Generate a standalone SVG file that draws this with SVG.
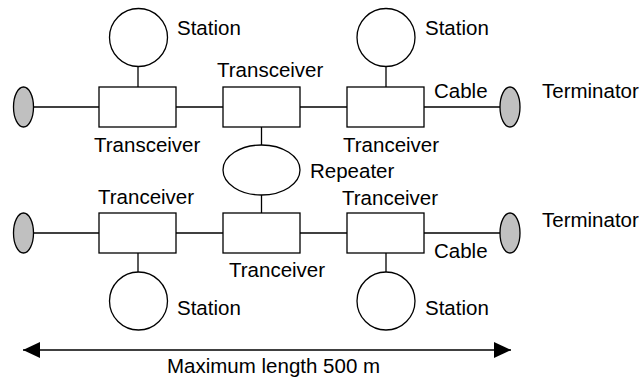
<svg xmlns="http://www.w3.org/2000/svg" width="643" height="379" viewBox="0 0 643 379">
<style>
.ln{stroke:#000;stroke-width:1.3;fill:none}
.bx{stroke:#000;stroke-width:1.3;fill:#fff}
.tm{stroke:#000;stroke-width:1.3;fill:#c0c0c0}
text{font-family:"Liberation Sans",Arial,sans-serif;font-size:20.5px;fill:#000}
</style>
<defs>
<marker id="ah" viewBox="0 0 17 16" refX="17" refY="8" markerWidth="17" markerHeight="16" markerUnits="userSpaceOnUse" orient="auto-start-reverse">
<path d="M0,0 L17,8 L0,16 Z" fill="#000"/>
</marker>
</defs>
<g id="connectors">
<line class="ln" x1="33" y1="107" x2="500" y2="107"/>
<line class="ln" x1="33" y1="233" x2="500" y2="233"/>
<line class="ln" x1="138" y1="67" x2="138" y2="87"/>
<line class="ln" x1="386" y1="67" x2="386" y2="87"/>
<line class="ln" x1="261.5" y1="127" x2="261.5" y2="145"/>
<line class="ln" x1="261.5" y1="195" x2="261.5" y2="213"/>
<line class="ln" x1="138" y1="253" x2="138" y2="272"/>
<line class="ln" x1="386" y1="253" x2="386" y2="272"/>
<line class="ln" x1="23" y1="350" x2="511" y2="350" marker-start="url(#ah)" marker-end="url(#ah)"/>
</g>
<g id="term-tl"><ellipse class="tm" cx="23.5" cy="107" rx="10" ry="20"/></g>
<g id="term-tr"><ellipse class="tm" cx="510" cy="107" rx="10" ry="20"/><text x="542" y="98">Terminator</text></g>
<g id="term-bl"><ellipse class="tm" cx="23.5" cy="233" rx="10" ry="20"/></g>
<g id="term-br"><ellipse class="tm" cx="510" cy="233" rx="10" ry="20"/><text x="542" y="227">Terminator</text></g>
<g id="tx-t1"><rect class="bx" x="99" y="87" width="77" height="40"/><text x="94" y="152">Transceiver</text></g>
<g id="tx-t2"><rect class="bx" x="223" y="87" width="77" height="40"/><text x="217" y="77">Transceiver</text></g>
<g id="tx-t3"><rect class="bx" x="347" y="87" width="77" height="40"/><text x="343" y="152">Tranceiver</text></g>
<g id="tx-b1"><rect class="bx" x="99" y="213" width="77" height="40"/><text x="98" y="204">Tranceiver</text></g>
<g id="tx-b2"><rect class="bx" x="223" y="213" width="77" height="40"/><text x="229" y="277">Tranceiver</text></g>
<g id="tx-b3"><rect class="bx" x="347" y="213" width="77" height="40"/><text x="342" y="205">Tranceiver</text></g>
<g id="st-t1"><circle class="bx" cx="138.5" cy="37.5" r="29"/><text x="177" y="35">Station</text></g>
<g id="st-t3"><circle class="bx" cx="386" cy="37.5" r="29"/><text x="425" y="35">Station</text></g>
<g id="st-b1"><circle class="bx" cx="138.5" cy="301" r="29"/><text x="177" y="315">Station</text></g>
<g id="st-b3"><circle class="bx" cx="386" cy="301" r="29"/><text x="425" y="315">Station</text></g>
<g id="repeater"><ellipse class="bx" cx="261.5" cy="170" rx="38.5" ry="25"/><text x="310" y="178">Repeater</text></g>
<g id="cable-labels"><text x="434" y="98">Cable</text><text x="434" y="258">Cable</text></g>
<g id="length-label"><text x="167" y="373">Maximum length 500 m</text></g>
</svg>
